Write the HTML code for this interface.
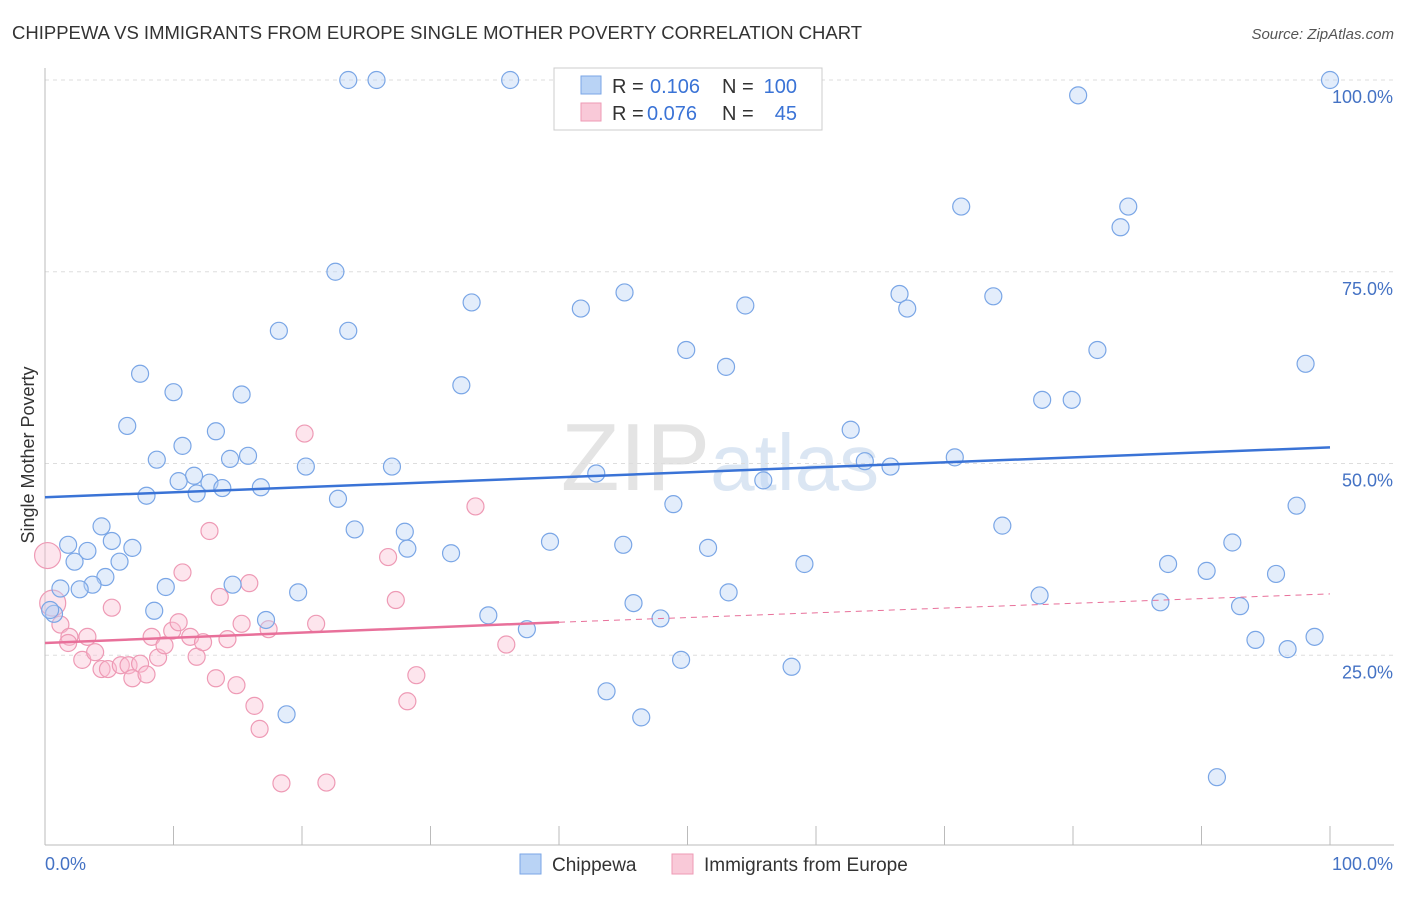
<!DOCTYPE html>
<html><head><meta charset="utf-8"><style>
body{margin:0;background:#fff;font-family:"Liberation Sans",sans-serif}
svg text{font-family:"Liberation Sans",sans-serif}
</style></head><body>
<svg id="c" width="1406" height="892" xmlns="http://www.w3.org/2000/svg">
<text x="12" y="39" font-size="18.5" fill="#333">CHIPPEWA VS IMMIGRANTS FROM EUROPE SINGLE MOTHER POVERTY CORRELATION CHART</text>
<text x="1394" y="39" font-size="15" fill="#555" text-anchor="end" font-style="italic">Source: ZipAtlas.com</text>
<text x="720" y="490" font-size="96" fill="#e4e4e4" text-anchor="middle" font-family="Liberation Serif">ZIP<tspan fill="#dbe6f3" font-family="Liberation Sans" font-size="80">atlas</tspan></text>
<g id="grid"></g><g id="pts"></g><g id="lines"></g>
<text transform="translate(34,455) rotate(-90)" font-size="18" fill="#333" text-anchor="middle">Single Mother Poverty</text>
<text x="45" y="870" font-size="18" fill="#4472c4">0.0%</text>
<text x="1393" y="870" font-size="18" fill="#4472c4" text-anchor="end">100.0%</text>
<g>
<rect x="554" y="68" width="268" height="62" fill="#fff" stroke="#ccc"/>
<rect x="581" y="76" width="20" height="18" fill="#b9d3f5" stroke="#7aa6e6"/>
<rect x="581" y="103" width="20" height="18" fill="#f9c9d8" stroke="#ee9ab5"/>
<text x="612" y="93" font-size="20" fill="#333">R =</text>
<text x="650" y="93" font-size="20" fill="#3a73d6">0.106</text>
<text x="722" y="93" font-size="20" fill="#333">N =</text>
<text x="797" y="93" font-size="20" fill="#3a73d6" text-anchor="end">100</text>
<text x="612" y="120" font-size="20" fill="#333">R =</text>
<text x="647" y="120" font-size="20" fill="#3a73d6">0.076</text>
<text x="722" y="120" font-size="20" fill="#333">N =</text>
<text x="797" y="120" font-size="20" fill="#3a73d6" text-anchor="end">45</text>
</g>
<g>
<rect x="520" y="854" width="21" height="20" fill="#b9d3f5" stroke="#7aa6e6"/>
<text x="552" y="871" font-size="19" fill="#333">Chippewa</text>
<rect x="672" y="854" width="21" height="20" fill="#f9c9d8" stroke="#ee9ab5"/>
<text x="704" y="871" font-size="19" fill="#333">Immigrants from Europe</text>
</g>
</svg>
<script>
const yTicks=[25,50,75,100];
const yTickLabels=["25.0%","50.0%","75.0%","100.0%"];
const xTicks=[0,10,20,30,40,50,60,70,80,90,100];
const blueX=[23.6,25.8,36.2,100,80.4,71.3,84.3,83.7,22.6,45.1,66.5,73.8,33.2,41.7,54.5,67.1,18.2,23.6,49.9,81.9,53,98.1,7.4,32.4,10,15.3,77.6,79.9,6.4,62.7,13.3,10.7,15.8,14.4,8.7,70.8,63.8,65.8,20.3,27,11.6,10.4,12.8,13.8,16.8,42.9,55.9,11.8,7.9,22.8,48.9,97.4,4.4,24.1,28,74.5,1.8,5.2,3.3,6.8,39.3,2.3,5.8,45,51.6,31.6,28.2,92.4,87.4,59.1,4.7,90.4,95.8,3.7,1.2,2.7,9.4,14.6,19.7,53.2,77.4,45.8,86.8,8.5,93,34.5,47.9,17.2,0.7,37.5,94.2,98.8,96.7,49.5,58.1,43.7,18.8,46.4,91.2,0.4];
const blueY=[100,100,100,100,98,83.5,83.5,80.8,75,72.3,72.1,71.8,71,70.2,70.6,70.2,67.3,67.3,64.8,64.8,62.6,63,61.7,60.2,59.3,59,58.3,58.3,54.9,54.4,54.2,52.3,51,50.6,50.5,50.8,50.3,49.6,49.6,49.6,48.4,47.7,47.5,46.8,46.9,48.7,47.8,46.1,45.8,45.4,44.7,44.5,41.8,41.4,41.1,41.9,39.4,39.9,38.6,39,39.8,37.2,37.2,39.4,39,38.3,38.9,39.7,36.9,36.9,35.2,36,35.6,34.2,33.7,33.6,33.9,34.2,33.2,33.2,32.8,31.8,31.9,30.8,31.4,30.2,29.8,29.6,30.4,28.4,27,27.4,25.8,24.4,23.5,20.3,17.3,16.9,9.1,30.9];
const pinkX=[0.2,0.6,1.2,1.9,1.8,3.3,2.9,3.9,5.2,4.4,4.9,5.9,6.5,7.4,6.8,7.9,8.3,8.8,9.3,9.9,10.4,10.7,11.3,11.8,12.3,12.8,13.3,13.6,14.2,14.9,15.3,15.9,16.3,16.7,17.4,18.4,20.2,21.1,21.9,26.7,27.3,28.2,28.9,33.5,35.9];
const pinkY=[38,31.8,29,27.4,26.6,27.4,24.4,25.4,31.2,23.2,23.2,23.7,23.7,23.9,22,22.5,27.4,24.7,26.3,28.2,29.3,35.8,27.4,24.8,26.7,41.2,22,32.6,27.1,21.1,29.1,34.4,18.4,15.4,28.4,8.3,53.9,29.1,8.4,37.8,32.2,19,22.4,44.4,26.4];
const S="http://www.w3.org/2000/svg";
const X0=45,X1=1330,Y0=847,Y100=80;
const xs=v=>X0+(X1-X0)*v/100, ys=v=>Y0-(Y0-Y100)*v/100;
function mk(t,a,p){const e=document.createElementNS(S,t);for(const k in a)e.setAttribute(k,a[k]);p.appendChild(e);return e;}
const g=document.getElementById('grid');
yTicks.forEach((t,i)=>{
 const l=mk('line',{x1:45,x2:1394,y1:ys(t),y2:ys(t),stroke:'#ddd','stroke-dasharray':'4,4'},g);
 
 
 const tx=mk('text',{x:1393,y:ys(t)+23,'font-size':18,fill:'#4472c4','text-anchor':'end'},g);
 tx.textContent=yTickLabels[i];
 
 
});
const ax=mk('line',{x1:45,x2:1394,y1:845,y2:845,stroke:'#bbb'},g);


const ay=mk('line',{x1:45,x2:45,y1:68,y2:845,stroke:'#bbb'},g);


xTicks.forEach(t=>{
 const l=mk('line',{x1:xs(t),x2:xs(t),y1:826,y2:845,stroke:'#bbb'},g);
 
 
});
const p=document.getElementById('pts');
pinkX.forEach((v,i)=>{
 const r=i<2?13:8.5;
 const c=mk('circle',{cx:xs(v),cy:ys(pinkY[i]),r:r,fill:'rgba(249,190,210,0.4)',stroke:'#ee9ab5','stroke-width':1.2},p);
 
 
});
blueX.forEach((v,i)=>{
 const c=mk('circle',{cx:xs(v),cy:ys(blueY[i]),r:8.5,fill:'rgba(185,211,245,0.4)',stroke:'#7aa6e6','stroke-width':1.2},p);
 
 
});
const L=document.getElementById('lines');
const b=mk('line',{x1:xs(0),y1:ys(45.6),x2:xs(100),y2:ys(52.1),stroke:'#3a73d6','stroke-width':2.5},L);


const pk=mk('line',{x1:xs(0),y1:ys(26.6),x2:xs(40),y2:ys(29.3),stroke:'#e8709a','stroke-width':2.5},L);


const pd=mk('line',{x1:xs(40),y1:ys(29.3),x2:xs(100),y2:ys(33.0),stroke:'#e8709a','stroke-width':1,'stroke-dasharray':'6,5'},L);


</script>
</body></html>
